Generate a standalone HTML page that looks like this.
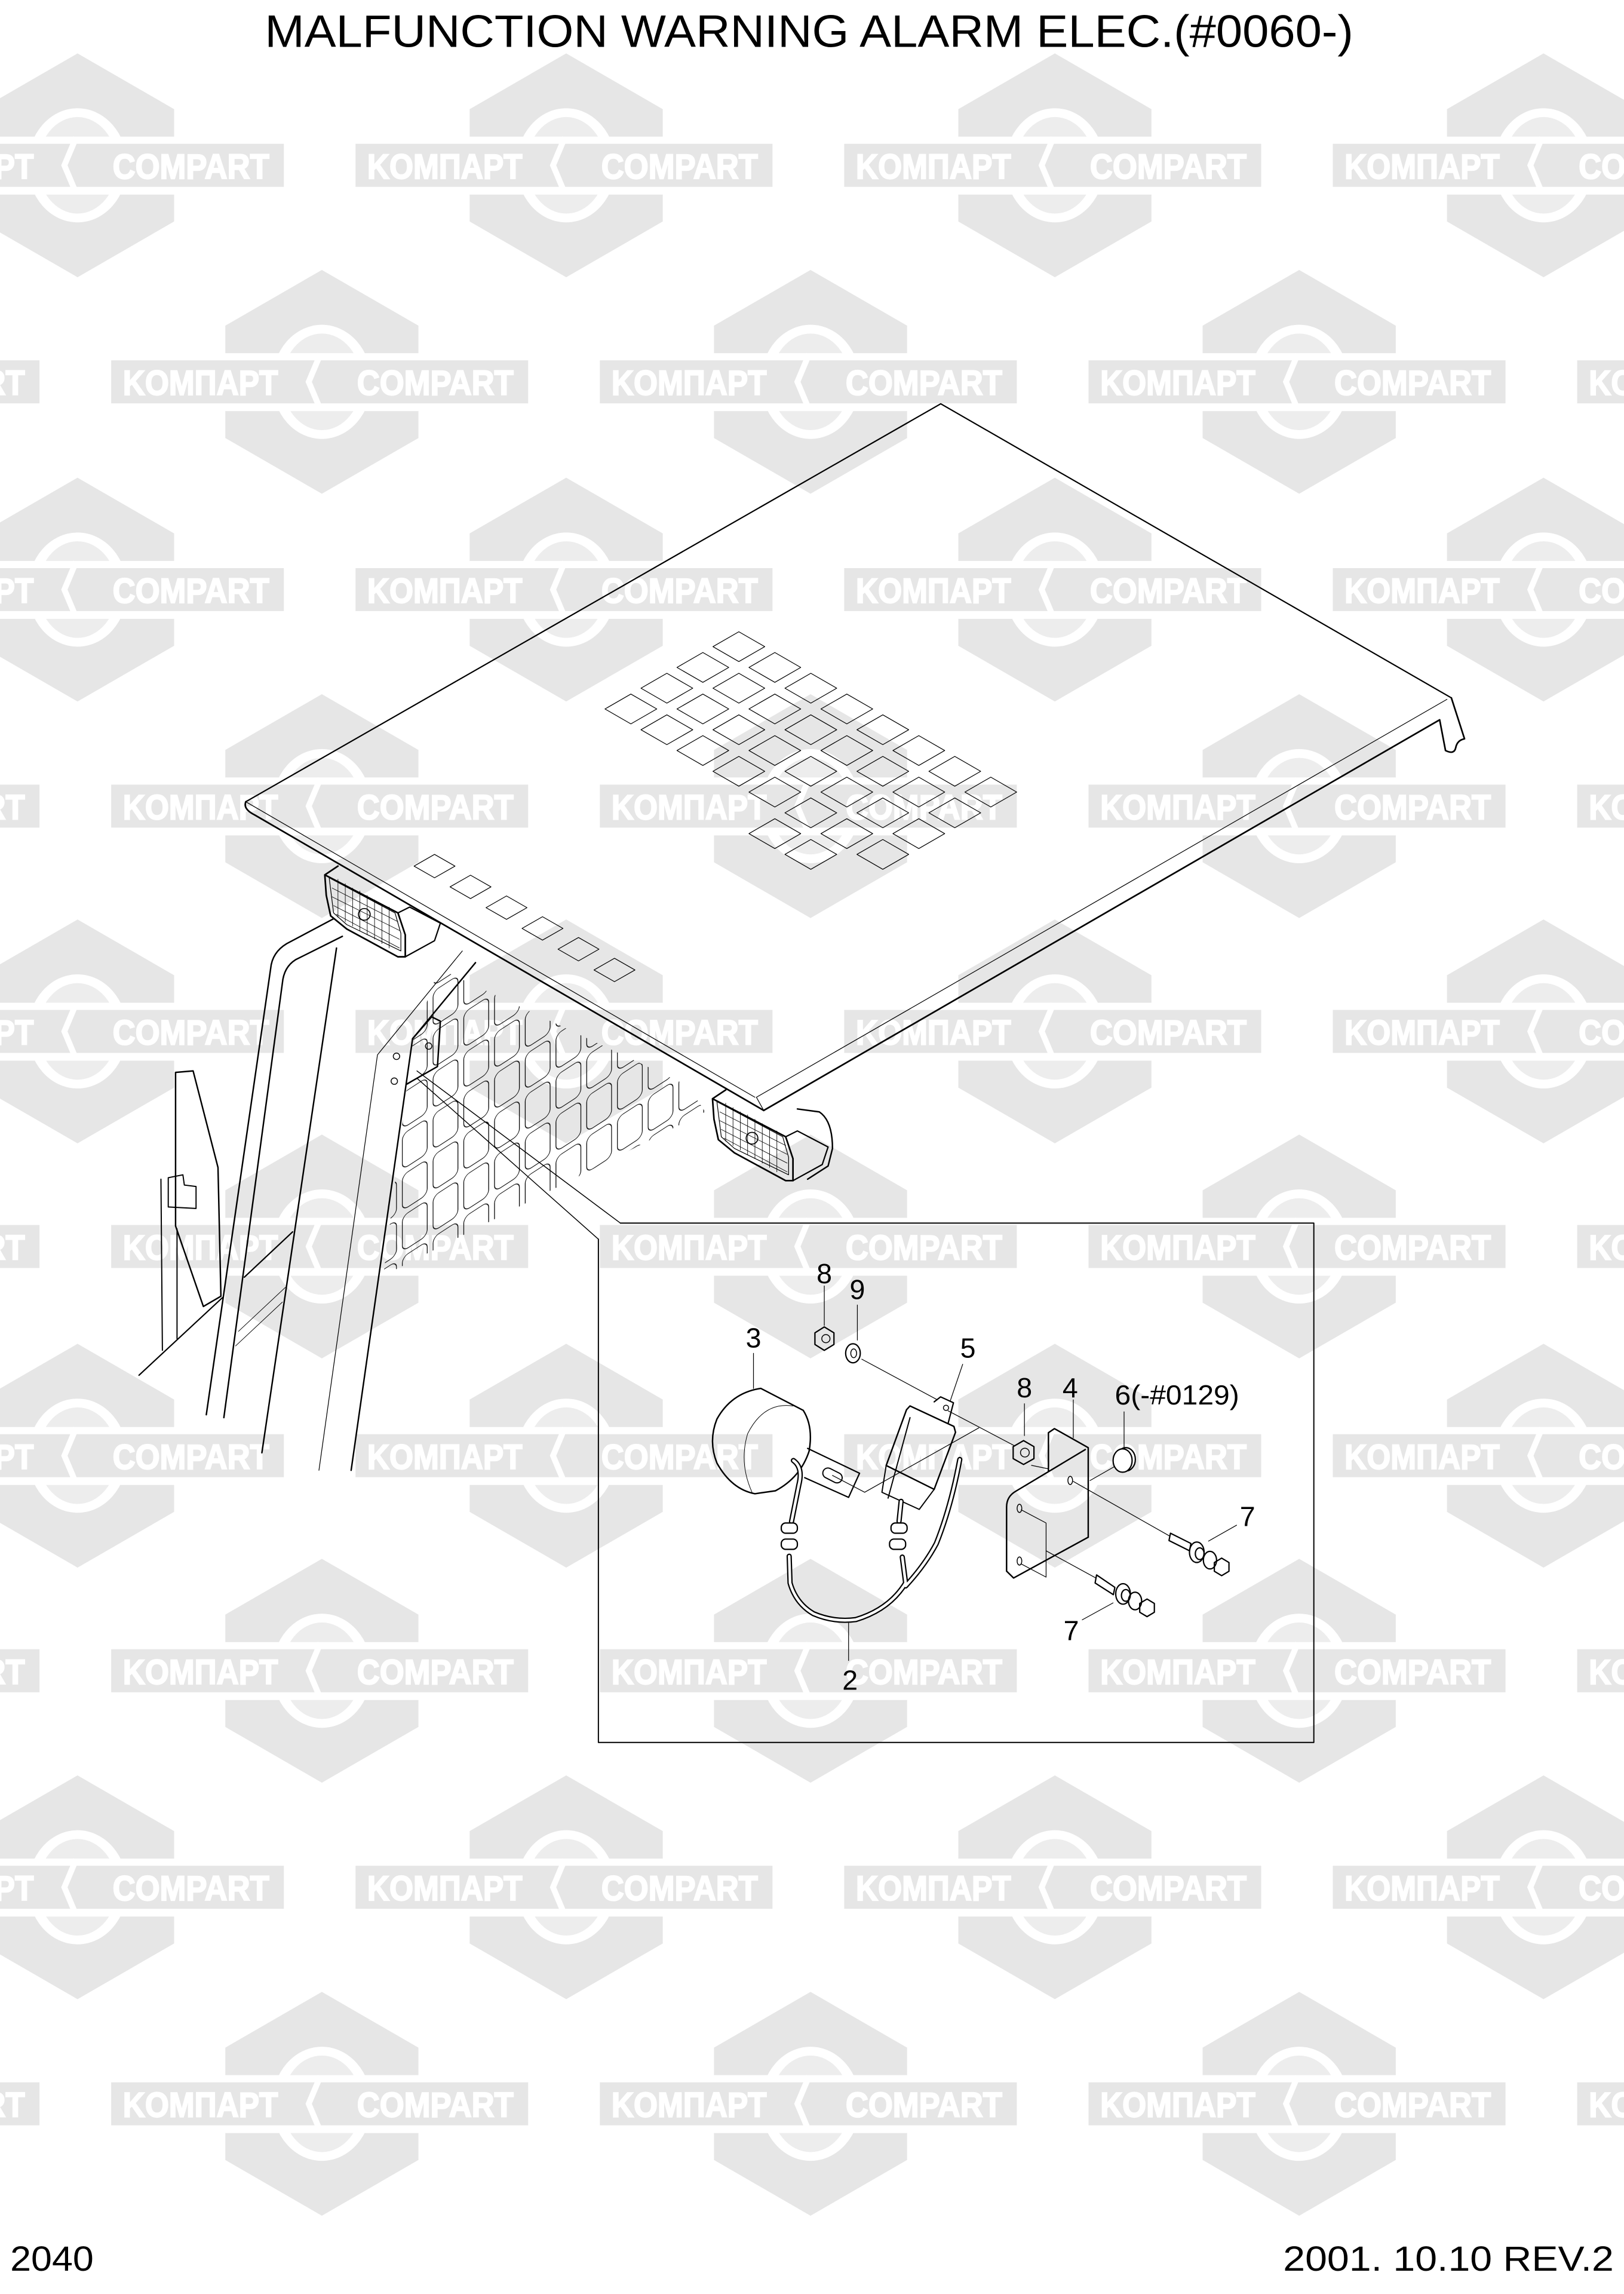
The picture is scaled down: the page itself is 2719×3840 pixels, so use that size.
<!DOCTYPE html>
<html><head><meta charset="utf-8"><style>
html,body{margin:0;padding:0;background:#fff;}
svg{display:block;}
</style></head><body>
<svg xmlns="http://www.w3.org/2000/svg" width="2719" height="3840" viewBox="0 0 1110 1568" preserveAspectRatio="none">
<defs>
<g id="logo">
<polygon points="0,-76.5 66,-38.4 66,38.4 0,76.5 -66,38.4 -66,-38.4" fill="#e6e6e6"/>
<ellipse cx="0" cy="0" rx="34" ry="39" fill="#fff"/>
<ellipse cx="0" cy="0" rx="27" ry="33" fill="#ededed"/>
<rect x="-150" y="-19.6" width="297" height="39.6" fill="#fff"/>
<rect x="-144" y="-14.7" width="285" height="29.4" fill="#e6e6e6"/>
<polyline points="-1,-19 -9,0 -1,19" fill="none" stroke="#fff" stroke-width="4"/>
<text x="-136" y="9" font-family="Liberation Sans Narrow, Liberation Sans, sans-serif" font-weight="bold" font-size="24" fill="#fff" stroke="#fff" stroke-width="0.9" textLength="106" lengthAdjust="spacingAndGlyphs">KOMПAPT</text>
<text x="24" y="9" font-family="Liberation Sans Narrow, Liberation Sans, sans-serif" font-weight="bold" font-size="24" fill="#fff" stroke="#fff" stroke-width="0.9" textLength="107" lengthAdjust="spacingAndGlyphs">COMPART</text>
</g>
<pattern id="mesh" width="21" height="28" patternUnits="userSpaceOnUse" patternTransform="skewY(-33)">
<rect x="2" y="2" width="17" height="24" rx="4" fill="none" stroke="#000" stroke-width="0.5"/>
</pattern>
<clipPath id="meshclip"><polygon points="300,662 470,742 482,760 262,872 282,712"/></clipPath>
<g id="lamp" fill="none" stroke="#000">
<path d="M0,0 L9,-6 M0,0 L50,26 L55,41 L55,56 L50,56 L15,37 L4,28 L1,14 Z" stroke-width="1.1"/>
<path d="M3,2 L48,26 L52,40 L52,52 L15,34 L6,26 Z" stroke-width="0.5"/>
<g stroke-width="0.35">
<line x1="9" y1="3" x2="9" y2="29"/><line x1="14" y1="6" x2="14" y2="32"/><line x1="19" y1="9" x2="19" y2="35"/><line x1="24" y1="11" x2="24" y2="38"/><line x1="29" y1="14" x2="29" y2="41"/><line x1="34" y1="17" x2="34" y2="44"/><line x1="39" y1="20" x2="39" y2="47"/><line x1="44" y1="22" x2="44" y2="50"/>
<line x1="5" y1="9" x2="50" y2="32"/><line x1="5" y1="15" x2="51" y2="38"/><line x1="6" y1="21" x2="51" y2="44"/><line x1="8" y1="27" x2="51" y2="50"/>
</g>
<circle cx="27" cy="27" r="4" stroke-width="0.7"/>
<path d="M50,26 L58,22 L79,33 L75,45 L55,56" stroke-width="0.9"/>
</g>
</defs>

<g>
<use href="#logo" x="53" y="113"/><use href="#logo" x="387" y="113"/><use href="#logo" x="721" y="113"/><use href="#logo" x="1055" y="113"/>
<use href="#logo" x="-114" y="261"/><use href="#logo" x="220" y="261"/><use href="#logo" x="554" y="261"/><use href="#logo" x="888" y="261"/><use href="#logo" x="1222" y="261"/>
<use href="#logo" x="53" y="403"/><use href="#logo" x="387" y="403"/><use href="#logo" x="721" y="403"/><use href="#logo" x="1055" y="403"/>
<use href="#logo" x="-114" y="551"/><use href="#logo" x="220" y="551"/><use href="#logo" x="554" y="551"/><use href="#logo" x="888" y="551"/><use href="#logo" x="1222" y="551"/>
<use href="#logo" x="53" y="705"/><use href="#logo" x="387" y="705"/><use href="#logo" x="721" y="705"/><use href="#logo" x="1055" y="705"/>
<use href="#logo" x="-114" y="852"/><use href="#logo" x="220" y="852"/><use href="#logo" x="554" y="852"/><use href="#logo" x="888" y="852"/><use href="#logo" x="1222" y="852"/>
<use href="#logo" x="53" y="995"/><use href="#logo" x="387" y="995"/><use href="#logo" x="721" y="995"/><use href="#logo" x="1055" y="995"/>
<use href="#logo" x="-114" y="1142"/><use href="#logo" x="220" y="1142"/><use href="#logo" x="554" y="1142"/><use href="#logo" x="888" y="1142"/><use href="#logo" x="1222" y="1142"/>
<use href="#logo" x="53" y="1290"/><use href="#logo" x="387" y="1290"/><use href="#logo" x="721" y="1290"/><use href="#logo" x="1055" y="1290"/>
<use href="#logo" x="-114" y="1438"/><use href="#logo" x="220" y="1438"/><use href="#logo" x="554" y="1438"/><use href="#logo" x="888" y="1438"/><use href="#logo" x="1222" y="1438"/>
</g>

<text x="553" y="32" text-anchor="middle" font-family="Liberation Sans, sans-serif" font-size="31" textLength="744" lengthAdjust="spacingAndGlyphs">MALFUNCTION WARNING ALARM ELEC.(#0060-)</text>
<text x="7" y="1552" font-family="Liberation Sans, sans-serif" font-size="24" textLength="57" lengthAdjust="spacingAndGlyphs">2040</text>
<text x="1103" y="1552" text-anchor="end" font-family="Liberation Sans, sans-serif" font-size="24" textLength="226" lengthAdjust="spacingAndGlyphs">2001. 10.10  REV.2</text>

<g fill="none" stroke="#000" stroke-linejoin="round" stroke-linecap="round">
<rect x="200" y="600" width="320" height="300" fill="url(#mesh)" clip-path="url(#meshclip)" stroke="none"/>
<path d="M168,548 L643,276 L992,477" stroke-width="0.9"/>
<path d="M168,548 Q166,553 174,557 L522,759" stroke-width="1.1"/>
<path d="M168,548 L516,750" stroke-width="0.5"/>
<path d="M989,478 L517,750 L522,759" stroke-width="0.5"/>
<path d="M992,477 L1001,505 Q996,506 995,511 Q994,516 988,513 L984,492 L522,759" stroke-width="1.1"/>
<path d="M984,492 L988,512" stroke-width="0.5"/>
<g stroke-width="0.5" id="cells">
</g>
<use href="#lamp" x="222" y="598"/>
<use href="#lamp" x="487" y="751"/>
<path d="M545,758 L560,760 Q569,766 569,785 L566,797 L552,806" stroke-width="1"/>
<path d="M228,628 L196,645 Q186,651 185,662 L141,967" stroke-width="1"/>
<path d="M234,640 L202,656 Q194,661 193,672 L153,969" stroke-width="1"/>
<path d="M230,648 L179,993" stroke-width="1"/>
<path d="M316,650 L258,721 L218,1005" stroke-width="0.5"/>
<path d="M325,658 L282,710 L240,1005" stroke-width="1"/>
<path d="M282,710 L295,695 L301,698 L299,729 L278,741" stroke-width="1"/>
<circle cx="271" cy="722" r="2.2" stroke-width="0.6"/>
<circle cx="269.5" cy="739" r="2.2" stroke-width="0.6"/>
<circle cx="293" cy="715" r="2.2" stroke-width="0.6"/>
<path d="M120,733 L132,732 L149,798 L151,886 L139,893 L120,838 Z" stroke-width="1"/>
<path d="M115,805 L125,803 L126,810 L134,811 L134,826 L115,825 Z" stroke-width="0.8"/>
<path d="M110,806 L111,923 M121,840 L121,915" stroke-width="0.8"/>
<path d="M95,940 L152,887 M167,873 L200,842" stroke-width="0.9"/>
<path d="M163,910 L195,880 M161,920 L193,890" stroke-width="0.4"/>
<path d="M285,732 L424,836" stroke-width="0.6"/>
<path d="M285,737 L409,847" stroke-width="0.6"/>
<path d="M424,836 L898,836 L898,1191 L409,1191 L409,847" stroke-width="0.8"/>

<g stroke-width="0.5">
<line x1="563.4" y1="879" x2="563.4" y2="906"/>
<line x1="586" y1="892" x2="586" y2="916"/>
<line x1="515" y1="925" x2="515" y2="949"/>
<line x1="589" y1="929" x2="640.7" y2="956.8"/>
<line x1="648" y1="964.3" x2="693" y2="988"/>
<polyline points="569,1008.5 591,1020 669,976"/>
<line x1="658" y1="932.5" x2="649.5" y2="957.5"/>
<line x1="580" y1="1109.5" x2="580" y2="1135"/>
<line x1="700.2" y1="959.5" x2="700.2" y2="981.3"/>
<line x1="733.6" y1="956.8" x2="733.6" y2="982.7"/>
<line x1="768.3" y1="965" x2="768.3" y2="989.5"/>
<line x1="766" y1="1000" x2="745" y2="1012"/>
<line x1="705" y1="1001.6" x2="716.6" y2="1004"/>
<line x1="733.6" y1="1012.6" x2="799.6" y2="1050"/>
<line x1="845.2" y1="1042.5" x2="826" y2="1053.4"/>
<polyline points="698,1032 715,1041 715,1078 698,1069"/>
<line x1="715" y1="1060" x2="749" y2="1078.6"/>
<line x1="739.7" y1="1107.2" x2="760.8" y2="1095.6"/>
</g>
<polygon points="563.4,907 570,911 570,919 563.4,923 557,919 557,911" stroke-width="0.9"/>
<circle cx="564.5" cy="915" r="2.8" stroke-width="0.6"/>
<ellipse cx="583" cy="925" rx="5" ry="6.5" stroke-width="0.9"/>
<ellipse cx="583.5" cy="925" rx="2" ry="3" stroke-width="0.6"/>
<path d="M520,949 L549,964 Q556,975 553,992 Q547,1010 530,1019 L516,1021 Q500,1018 490,1000 Q484,985 490,970 Q500,952 520,949 Z" stroke-width="1"/>
<path d="M542,961 Q522,958 511,980 Q505,1000 514,1020" stroke-width="0.4"/>
<path d="M552,990 L587.5,1007 L580,1023.5 L550,1010" stroke-width="0.9"/>
<rect x="562" y="1005" width="14" height="7" rx="3.5" transform="rotate(27 569 1008.5)" stroke-width="0.8"/>
<path d="M605.7,1001.7 L619.6,963.6 L622,961 L652,975 L653.1,979 L638.5,1018 Z" stroke-width="1"/>
<path d="M605.7,1001.7 L602.8,1020 L628.3,1031.7 L638.5,1018 M622,969 L607,1024" stroke-width="0.8"/>
<path d="M638.5,958.2 L642.9,954.8 L651.7,958.8 L648,973" stroke-width="0.9"/>
<circle cx="646.6" cy="962.3" r="1.8" stroke-width="0.6"/>
<g stroke="#000" stroke-width="3.6">
<path d="M542.3,998.3 Q549,1003 546,1015 L541,1040"/>
<path d="M539.4,1063.7 L540,1082 Q544,1096 556,1103 Q570,1109 585,1107 Q608,1100 619,1082 L616.7,1064.3"/>
<path d="M615.9,1026.2 L614.5,1039.8"/>
<path d="M656,997.6 Q650,1030 640,1055 Q632,1070 619,1084"/>
</g>
<g stroke="#fff" stroke-width="1.8">
<path d="M542.3,998.3 Q549,1003 546,1015 L541,1040"/>
<path d="M539.4,1063.7 L540,1082 Q544,1096 556,1103 Q570,1109 585,1107 Q608,1100 619,1082 L616.7,1064.3"/>
<path d="M615.9,1026.2 L614.5,1039.8"/>
<path d="M656,997.6 Q650,1030 640,1055 Q632,1070 619,1084"/>
</g>
<g stroke-width="0.9" fill="#fff">
<rect x="534" y="1041" width="11" height="7" rx="3"/><rect x="534" y="1052" width="11" height="7" rx="3"/>
<rect x="609" y="1041" width="11" height="7" rx="3"/><rect x="608" y="1052" width="11" height="7" rx="3"/>
</g>
<polygon points="699.6,984.7 706.7,988.8 706.7,997 699.6,1001 692.5,997 692.5,988.8" stroke-width="0.9"/>
<circle cx="700.5" cy="992.9" r="3" stroke-width="0.6"/>
<path d="M716.6,1005.8 L716.6,979.3 L720.7,976.5 L743.8,989.5 L743.8,1050.7" stroke-width="1"/>
<path d="M741.8,990.8 L694.1,1019.4 Q688,1023 688,1030 L688,1073.9 L692.8,1078.6 L743.8,1050.7" stroke-width="1"/>
<ellipse cx="731.5" cy="1011.9" rx="1.6" ry="2.8" stroke-width="0.6"/>
<ellipse cx="696.8" cy="1031" rx="1.6" ry="2.8" stroke-width="0.6"/>
<ellipse cx="696.8" cy="1067" rx="1.6" ry="2.8" stroke-width="0.6"/>
<ellipse cx="769.5" cy="997.5" rx="6.5" ry="8" stroke-width="0.9"/>
<ellipse cx="767.3" cy="998.3" rx="6.5" ry="8" stroke-width="0.9" fill="#fff"/>
<g stroke-width="0.9">
<path d="M800,1048 L814,1055 L813,1060 L799,1053 Z"/>
<ellipse cx="818" cy="1061" rx="5" ry="7"/><ellipse cx="820" cy="1062" rx="3" ry="4"/>
<ellipse cx="827" cy="1066.4" rx="4.5" ry="6"/>
<polygon points="835,1065 840,1068 840,1074 835,1077 830,1074 830,1068"/>
<path d="M749.5,1076.5 L762,1085 L761,1090 L748.5,1082 Z"/>
<ellipse cx="767.6" cy="1089.5" rx="5" ry="7"/><ellipse cx="769.5" cy="1090.5" rx="3" ry="4"/>
<ellipse cx="775.8" cy="1094.3" rx="4.5" ry="6"/>
<polygon points="784,1093 789,1096 789,1102 784,1105 779,1102 779,1096"/>
</g>
</g>

<g font-family="Liberation Sans, sans-serif" font-size="19" fill="#000" text-anchor="middle">
<text x="563.4" y="877">8</text>
<text x="586" y="888">9</text>
<text x="515" y="921">3</text>
<text x="661.6" y="928">5</text>
<text x="700.2" y="955">8</text>
<text x="731.5" y="955">4</text>
<text x="852.7" y="1043">7</text>
<text x="732.2" y="1121">7</text>
<text x="581" y="1155">2</text>
<text x="762" y="960" text-anchor="start" textLength="85" lengthAdjust="spacingAndGlyphs">6(-#0129)</text>
</g>

<script>
(function(){
var g=document.getElementById('cells');var ns='http://www.w3.org/2000/svg';
function cell(cx,cy){var p=document.createElementNS(ns,'polygon');
p.setAttribute('points',(cx)+','+(cy-10.2)+' '+(cx+17.7)+','+cy+' '+cx+','+(cy+10.2)+' '+(cx-17.7)+','+cy);g.appendChild(p);}
for(var i=0;i<8;i++){for(var j=0;j<4;j++){cell(505+i*24.6-j*24.6,442+i*14.2+j*14.2);}}
cell(505+5*24.6-4*24.6,442+9*14.2);cell(505+6*24.6-4*24.6,442+10*14.2);
for(var k=0;k<6;k++){var cx=297+k*24.6,cy=592+k*14.2;var p=document.createElementNS(ns,'polygon');
p.setAttribute('points',cx+','+(cy-8)+' '+(cx+14)+','+cy+' '+cx+','+(cy+8)+' '+(cx-14)+','+cy);g.appendChild(p);}
})();
</script>
</svg>
</body></html>
